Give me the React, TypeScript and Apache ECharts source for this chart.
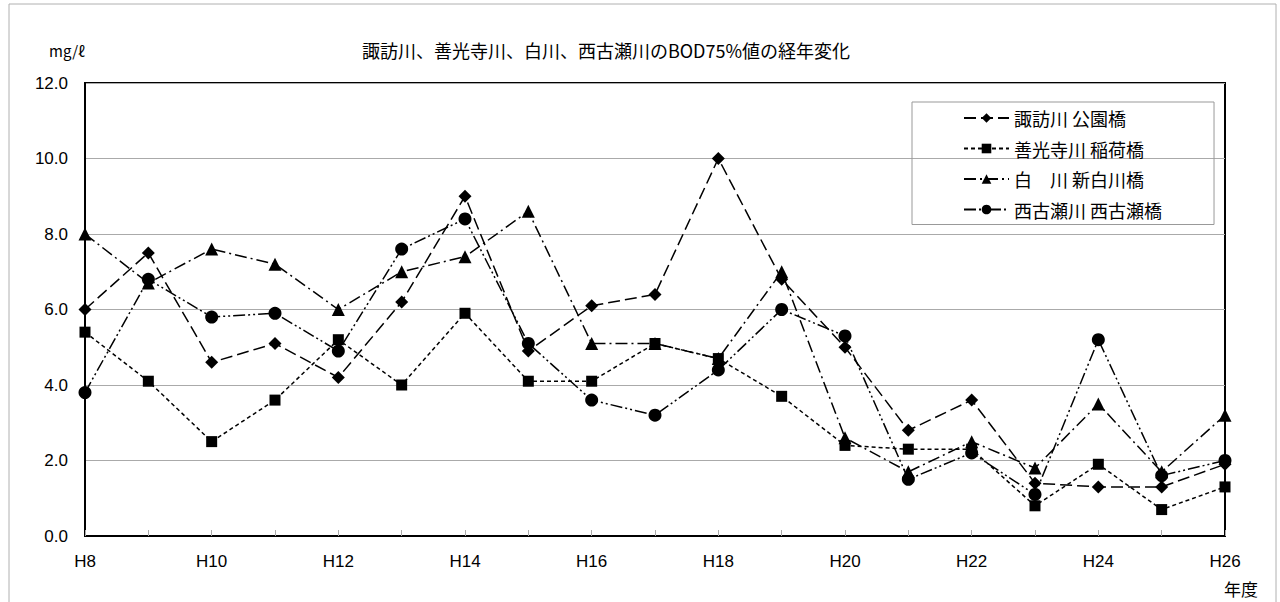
import React, { useEffect, useRef } from "react";
import * as echarts from "echarts";

const categories = ["H8","H9","H10","H11","H12","H13","H14","H15","H16","H17","H18","H19","H20","H21","H22","H23","H24","H25","H26"];
const suwa = [6.0,7.5,4.6,5.1,4.2,6.2,9.0,4.9,6.1,6.4,10.0,6.8,5.0,2.8,3.6,1.4,1.3,1.3,1.9];
const zenkoji = [5.4,4.1,2.5,3.6,5.2,4.0,5.9,4.1,4.1,5.1,4.7,3.7,2.4,2.3,2.3,0.8,1.9,0.7,1.3];
const shirakawa = [8.0,6.7,7.6,7.2,6.0,7.0,7.4,8.6,5.1,5.1,4.7,7.0,2.6,1.7,2.5,1.8,3.5,1.7,3.2];
const nishikose = [3.8,6.8,5.8,5.9,4.9,7.6,8.4,5.1,3.6,3.2,4.4,6.0,5.3,1.5,2.2,1.1,5.2,1.6,2.0];
const seriesNames = ["諏訪川 公園橋","善光寺川 稲荷橋","白　川 新白川橋","西古瀬川 西古瀬橋"];
const yTicks = [0, 12, 2];

const FONT = "'Liberation Sans', 'Noto Sans CJK JP', sans-serif";
const CJK = "'Noto Sans CJK JP', sans-serif";

export default function App() {
  const ref = useRef<HTMLDivElement>(null);
  useEffect(() => {
    if (!ref.current) return;
    const chart = echarts.init(ref.current, undefined, { renderer: "svg" });
    const mk = (name: string, data: number[], symbol: string, size: number, dash: number[]) => ({
      name,
      type: "line",
      data,
      symbol,
      symbolSize: size,
      itemStyle: { color: "#000" },
      lineStyle: { color: "#000", width: 1.5, type: dash },
      emphasis: { disabled: true },
    });
    chart.setOption({
      animation: false,
      backgroundColor: "#fff",
      title: [
        { text: "諏訪川、善光寺川、白川、西古瀬川のBOD75%値の経年変化", left: 601, top: 36, textAlign: "center",
          textStyle: { fontFamily: CJK, fontSize: 18, fontWeight: "normal", color: "#000" } },
        { text: "mg/ℓ", left: 44, top: 38, textStyle: { fontFamily: CJK, fontSize: 15, fontWeight: "normal", color: "#000" } },
        { text: "年度", left: 1224, top: 580, padding: 0, textStyle: { fontFamily: CJK, fontSize: 17, fontWeight: "normal", color: "#000" } },
      ],
      graphic: [
        { type: "rect", shape: { x: 9, y: 4, width: 1267, height: 640 }, style: { fill: "none", stroke: "#b0b0b0", lineWidth: 1 }, silent: true },
      ],
      legend: {
        orient: "vertical",
        left: 912,
        top: 102,
        padding: [7, 52, 6, 51],
        borderColor: "#999",
        borderWidth: 1,
        itemWidth: 45,
        itemHeight: 12,
        itemGap: 12.5,
        textStyle: { fontFamily: CJK, fontSize: 18, color: "#000", lineHeight: 18 },
        data: seriesNames,
      },
      grid: { left: 85, right: 55, top: 83, bottom: 66, show: true, borderColor: "#000", borderWidth: 2, backgroundColor: "#fff" },
      xAxis: {
        type: "category",
        data: categories,
        boundaryGap: false,
        axisLine: { lineStyle: { color: "#000", width: 2 } },
        axisTick: { show: true, inside: true, interval: 0, length: 6, lineStyle: { color: "#aaa" } },
        axisLabel: { interval: 1, margin: 17, fontFamily: FONT, fontSize: 17, color: "#000" },
        splitLine: { show: false },
      },
      yAxis: {
        type: "value",
        min: yTicks[0],
        max: yTicks[1],
        interval: yTicks[2],
        axisLine: { show: true, lineStyle: { color: "#000", width: 2 } },
        axisTick: { show: false },
        axisLabel: { margin: 17, fontFamily: FONT, fontSize: 17, color: "#000", formatter: (v: number) => v.toFixed(1) },
        splitLine: { lineStyle: { color: "#aaa", width: 1 } },
      },
      series: [
        mk(seriesNames[0], suwa, "diamond", 13, [12, 5]),
        mk(seriesNames[1], zenkoji, "rect", 11, [4, 3]),
        mk(seriesNames[2], shirakawa, "triangle", 13, [12, 4, 2, 4]),
        mk(seriesNames[3], nishikose, "circle", 13, [12, 3, 2, 3, 2, 3]),
      ],
    });
    return () => chart.dispose();
  }, []);
  return <div ref={ref} style={{ position: "absolute", left: 0, top: 0, width: 1280, height: 602 }} />;
}
